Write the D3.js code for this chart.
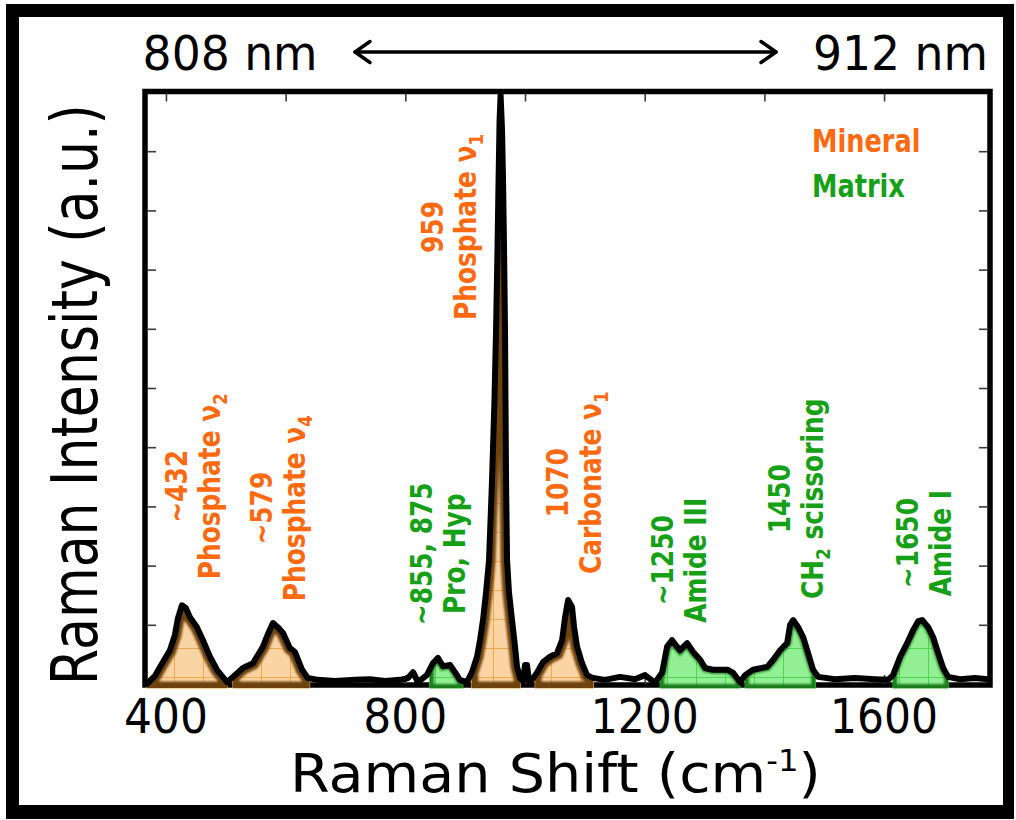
<!DOCTYPE html>
<html>
<head>
<meta charset="utf-8">
<script src="https://cdn.jsdelivr.net/npm/d3@7"></script>
<style>
  html, body { margin: 0; padding: 0; background: #fff; }
  svg { display: block; }
</style>
</head>
<body>
<svg id="chart" width="1016" height="820"></svg>
<script>
// Raman spectrum of bone: Raman shift (cm^-1) vs. intensity (a.u.)
const shift = [
  368, 381.6, 393.3, 406.7, 415, 420, 426.7, 433.4, 440, 451.8, 461.8, 473.5, 485.2, 502,
  512, 528.7, 545.4, 562, 572, 578.8, 587, 595.6, 607, 615.6, 627, 637,
  654, 682.5, 716, 741, 766, 791, 804.5, 813, 821,
  836, 846, 854.6, 863, 874.7, 883, 891, 903,
  911.4, 919.8, 924.8, 929.8, 934.8, 939.9, 944.9, 949, 951.6, 954, 955.8, 957.5, 959.2,
  961.6, 963.3, 965, 966.6, 967.4, 968.3, 970, 973.3, 978.3, 983.3, 986.7, 991.7,
  996.7, 1000, 1003.4, 1006.7, 1011.7,
  1020, 1030, 1041.8, 1053.5, 1062, 1067, 1072, 1078.6, 1082, 1087, 1095.3, 1103.7, 1113.7,
  1133.7, 1158.8, 1183.9, 1200.6, 1217.3,
  1229, 1237.4, 1245.8, 1254, 1259, 1271, 1281, 1292.7, 1301, 1314, 1339, 1347.7, 1359.4,
  1367.7, 1381, 1404.8, 1414.8, 1426.3, 1438, 1443, 1448, 1456.4, 1464.8, 1473, 1481.4, 1490,
  1518, 1551.6, 1585, 1606.7,
  1615, 1626.8, 1638.5, 1648.6, 1657, 1663.6, 1673.7, 1682, 1690.4, 1698.7, 1707,
  1727, 1752, 1774
];
const intensity = [
  0.00, 0.135, 0.34, 0.57, 0.83, 1.11, 1.33, 1.28, 1.13, 0.96, 0.74, 0.46, 0.24, 0.03,
  0.12, 0.27, 0.35, 0.63, 0.88, 1.03, 0.96, 0.86, 0.61, 0.54, 0.25, 0.10,
  0.07, 0.05, 0.07, 0.08, 0.05, 0.07, 0.10, 0.20, 0.03,
  0.15, 0.35, 0.44, 0.30, 0.32, 0.20, 0.07, 0.03,
  0.20, 0.46, 0.74, 1.08, 1.54, 2.09, 3.45, 4.80, 5.98, 7.33, 8.51, 9.53, 9.95,
  9.36, 8.51, 7.33, 5.98, 4.80, 3.45, 2.09, 1.54, 1.08, 0.63, 0.29, 0.10,
  0.05, 0.32, 0.32, 0.05, 0.07,
  0.19, 0.37, 0.46, 0.52, 0.74, 1.13, 1.42, 1.30, 0.96, 0.63, 0.35, 0.15, 0.10,
  0.07, 0.12, 0.08, 0.15, 0.02,
  0.19, 0.63, 0.74, 0.63, 0.57, 0.69, 0.54, 0.41, 0.27, 0.24, 0.24, 0.19, 0.03,
  0.15, 0.24, 0.29, 0.41, 0.57, 0.69, 1.00, 1.08, 0.96, 0.79, 0.52, 0.24, 0.12,
  0.08, 0.10, 0.08, 0.07,
  0.15, 0.46, 0.69, 0.91, 1.06, 1.08, 0.96, 0.79, 0.52, 0.27, 0.12,
  0.08, 0.10, 0.08
];

// Shaded band ranges (cm^-1) for mineral and matrix bands
const mineralBands = [[368, 502], [512, 640], [911, 992], [1017, 1114]];
const matrixBands = [[841, 896], [1226, 1359], [1368, 1485], [1615, 1707]];

// Peak annotations
const peakValues = ["~432", "~579", "959", "~855, 875", "1070", "~1250", "1450", "~1650"];
const peakNames = ["Phosphate ν_2", "Phosphate ν_4", "Phosphate ν_1", "Pro, Hyp",
                   "Carbonate ν_1", "Amide III", "CH_2 scissoring", "Amide I"];
const peakGroups = ["mineral", "mineral", "mineral", "matrix", "mineral", "matrix", "matrix", "matrix"];

// Axis ticks and labels
const xTickValues = [400, 600, 800, 1000, 1200, 1400, 1600];
const xTickLabels = [400, 800, 1200, 1600];
const yTickValues = [1, 2, 3, 4, 5, 6, 7, 8, 9];
const legendNames = ["Mineral", "Matrix"];
const wavelengthLabels = ["808 nm", "912 nm"];
const xTitle = "Raman Shift (cm";
const xTitleSup = "-1";
const yTitle = "Raman Intensity (a.u.)";

// ---------------------------------------------------------------------------
const ORANGE = "#ff6a10";
const GREEN = "#16a016";
const FONT = "'DejaVu Sans', Verdana, sans-serif";

const svg = d3.select("#chart");
const plot = { left: 145, right: 990, top: 91.5, bottom: 684 };

const x = d3.scaleLinear().domain([365, 1777]).range([plot.left, plot.right]);
const y = d3.scaleLinear().domain([0, 10]).range([plot.bottom, plot.top + 0.5]);
const curveAt = d3.scaleLinear().domain(shift).range(intensity);

// Place a text at (tx, ty) with an optional rotation, squeezing it horizontally
// so that its run length equals `len`.
function fitText(sel, tx, ty, len, rotate) {
  const w = sel.node().getComputedTextLength();
  const s = len / w;
  sel.attr("transform",
    `translate(${tx},${ty})${rotate ? ` rotate(${rotate})` : ""} scale(${s},1)`);
  return sel;
}

const defs = svg.append("defs");

// graph-paper fills
function gridPattern(id, base, line) {
  const p = defs.append("pattern").attr("id", id)
    .attr("patternUnits", "userSpaceOnUse")
    .attr("width", 29).attr("height", 29)
    .attr("x", 0).attr("y", 10);
  p.append("rect").attr("width", 29).attr("height", 29).attr("fill", base);
  p.append("path").attr("d", "M0 0.5H29M0.5 0V29")
    .attr("stroke", line).attr("stroke-width", 1).attr("fill", "none");
}
gridPattern("fill-mineral", "#fbd4a4", "#f2a84c");
gridPattern("fill-matrix", "#93ef93", "#4fd54f");

defs.append("filter").attr("id", "soft")
  .append("feGaussianBlur").attr("stdDeviation", 1.2);

// page border
svg.append("path")
  .attr("d", "M6 4H1014V819H6Z M19 17V805H1003V17Z")
  .attr("fill", "#000").attr("fill-rule", "evenodd");

// top wavelength annotation
const wl0 = svg.append("text").attr("font-family", FONT).attr("font-size", 48)
  .text(wavelengthLabels[0]);
fitText(wl0, 142.6, 70, 175);
const wl1 = svg.append("text").attr("font-family", FONT).attr("font-size", 48)
  .text(wavelengthLabels[1]);
fitText(wl1, 813, 70, 175);
const arrow = svg.append("g").attr("stroke", "#000").attr("stroke-width", 3.5)
  .attr("fill", "none").attr("stroke-linecap", "round").attr("stroke-linejoin", "round");
arrow.append("line").attr("x1", 355).attr("x2", 776).attr("y1", 52).attr("y2", 52);
arrow.append("path").attr("d", "M370 41.5L355 52L370 62.5");
arrow.append("path").attr("d", "M761 41.5L776 52L761 62.5");

// plot frame
svg.append("rect")
  .attr("x", plot.left).attr("y", plot.top)
  .attr("width", plot.right - plot.left).attr("height", plot.bottom - plot.top + 1)
  .attr("fill", "#fff").attr("stroke", "#000").attr("stroke-width", 5.5);

// inward ticks on all four sides
function styleTicks(g) {
  g.select(".domain").remove();
  g.selectAll(".tick line").attr("stroke", "#3a3a3a").attr("stroke-width", 1.6);
  g.selectAll(".tick text").remove();
}
svg.append("g").attr("transform", `translate(0,${plot.bottom})`)
  .call(d3.axisBottom(x).tickValues(xTickValues).tickSize(-9)).call(styleTicks);
svg.append("g").attr("transform", `translate(0,${plot.top + 2})`)
  .call(d3.axisTop(x).tickValues(xTickValues).tickSize(-8)).call(styleTicks);
svg.append("g").attr("transform", `translate(${plot.left + 2},0)`)
  .call(d3.axisLeft(y).tickValues(yTickValues).tickSize(-9)).call(styleTicks);
svg.append("g").attr("transform", `translate(${plot.right - 2},0)`)
  .call(d3.axisRight(y).tickValues(yTickValues).tickSize(-9)).call(styleTicks);

// shaded bands under the spectrum
const area = d3.area()
  .x(d => x(d[0]))
  .y0(plot.bottom + 4)
  .y1(d => y(d[1]));

function bandData(a, b) {
  const pts = [[a, curveAt(a)]];
  shift.forEach((s, i) => { if (s > a && s < b) pts.push([s, intensity[i]]); });
  pts.push([b, curveAt(b)]);
  return pts;
}

const bands = mineralBands.map(b => ({ range: b, group: "mineral" }))
  .concat(matrixBands.map(b => ({ range: b, group: "matrix" })));

const bandLayer = svg.append("g");
bands.forEach((band, i) => {
  const d = area(bandData(band.range[0], band.range[1]));
  const clipId = `band-clip-${i}`;
  defs.append("clipPath").attr("id", clipId).append("path").attr("d", d);
  const isMineral = band.group === "mineral";
  bandLayer.append("path").attr("d", d)
    .attr("fill", `url(#fill-${band.group})`)
    .attr("stroke", isMineral ? "#f0a040" : "#2cc02c").attr("stroke-width", 1.2);
  bandLayer.append("path").attr("d", d)
    .attr("clip-path", `url(#${clipId})`)
    .attr("fill", "none")
    .attr("stroke", isMineral ? "#6d430f" : "#1b7d1b")
    .attr("stroke-width", isMineral ? 13 : 8)
    .attr("filter", "url(#soft)");
});

// spectrum trace
const line = d3.line().x((d, i) => x(shift[i])).y((d, i) => y(intensity[i]));
svg.append("path")
  .datum(intensity)
  .attr("d", line)
  .attr("fill", "none")
  .attr("stroke", "#000")
  .attr("stroke-width", 6)
  .attr("stroke-linejoin", "round")
  .attr("stroke-linecap", "round");

// x tick labels
const tickLabelLen = v => String(v).length === 3 ? 84 : 108;
svg.append("g").selectAll("text")
  .data(xTickLabels).join("text")
  .attr("font-family", FONT).attr("font-size", 48)
  .text(v => v)
  .each(function (v) {
    fitText(d3.select(this), x(v) - tickLabelLen(v) / 2, 733, tickLabelLen(v));
  });

// axis titles
const xt = svg.append("text")
  .attr("font-family", FONT).attr("font-size", 53);
xt.append("tspan").text(xTitle);
xt.append("tspan").attr("dy", -21).attr("font-size", 30).text(xTitleSup);
xt.append("tspan").attr("dy", 21).text(")");
fitText(xt, 290, 792, 531);

const yt = svg.append("text")
  .attr("font-family", FONT).attr("font-size", 64)
  .text(yTitle);
fitText(yt, 97, 685, 581, -90);

// peak annotations (rotated, two lines)
const labelAnchor = [[435, 3.34], [577, 2.97], [863, 7.72], [845, 2.2],
                     [1071, 3.4], [1247, 2.09], [1443, 3.13], [1656, 2.38]];
const LABEL_SIZE = 30, LABEL_SQUEEZE = 0.83, LINE_GAP = 33;

peakValues.forEach((val, i) => {
  const color = peakGroups[i] === "mineral" ? ORANGE : GREEN;
  const [cx, cy] = labelAnchor[i];
  const g = svg.append("g")
    .attr("transform", `translate(${x(cx)},${y(cy)}) rotate(-90)`)
    .attr("font-family", FONT).attr("font-weight", "bold")
    .attr("font-size", LABEL_SIZE).attr("fill", color)
    .attr("text-anchor", "middle");
  g.append("text").attr("transform", `scale(${LABEL_SQUEEZE},1)`).text(val);
  const t2 = g.append("text")
    .attr("transform", `translate(0,${LINE_GAP}) scale(${LABEL_SQUEEZE},1)`);
  const parts = peakNames[i].split(/_(\d)/);
  let shifted = false;
  parts.forEach((p, k) => {
    if (!p) return;
    const ts = t2.append("tspan").text(p);
    if (k % 2 === 1) {
      ts.attr("dy", 7).attr("font-size", 20);
      shifted = true;
    } else if (shifted) {
      ts.attr("dy", -7);
      shifted = false;
    }
  });
});

// legend
[[152, ORANGE], [197, GREEN]].forEach(([by, color], i) => {
  svg.append("text")
    .attr("transform", `translate(812,${by}) scale(0.8,1)`)
    .attr("font-family", FONT).attr("font-weight", "bold")
    .attr("font-size", 32).attr("fill", color)
    .text(legendNames[i]);
});
</script>
</body>
</html>
